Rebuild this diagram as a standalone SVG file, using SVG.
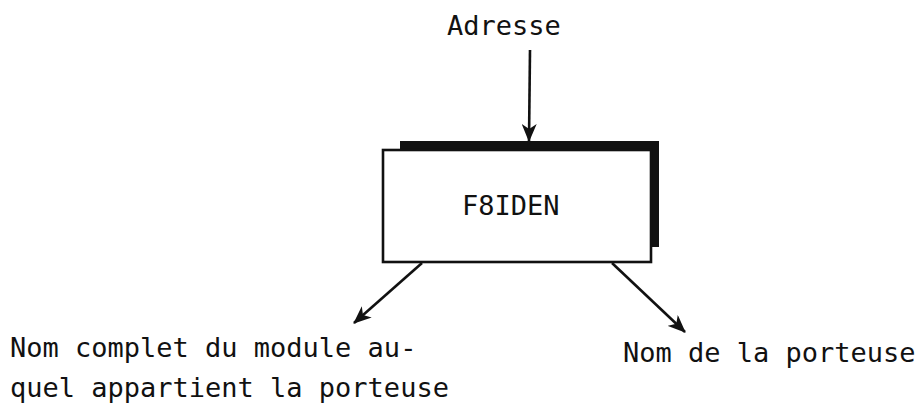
<svg xmlns="http://www.w3.org/2000/svg" width="917" height="414" viewBox="0 0 917 414">
<style>
text{font-family:"DejaVu Sans Mono","Liberation Mono",monospace;font-size:27px;fill:#111}
.ln{stroke:#111;stroke-width:2.6;fill:none}
</style>
<defs>
<marker id="ah" markerWidth="18" markerHeight="15" refX="17" refY="7.5" orient="auto" markerUnits="userSpaceOnUse">
<path d="M0,0 L18,7.5 L0,15 L5,7.5 Z" fill="#111"/>
</marker>
</defs>
<rect width="917" height="414" fill="#fff"/>
<g id="F8IDEN">
<path d="M400,141 H659 V247 H649 V149 H400 Z" fill="#111"/>
<rect x="383" y="150" width="268" height="112" fill="#fff" stroke="#111" stroke-width="2.6"/>
<text x="462" y="215">F8IDEN</text>
</g>
<g id="adresse"><text x="447" y="35">Adresse</text></g>
<g id="nom-complet">
<text x="10" y="357">Nom complet du module au-</text>
<text x="10" y="397">quel appartient la porteuse</text>
</g>
<g id="nom-porteuse"><text x="623" y="362">Nom de la porteuse</text></g>
<g id="connectors">
<line class="ln" x1="530" y1="50" x2="529" y2="141" marker-end="url(#ah)"/>
<line class="ln" x1="422" y1="263" x2="354" y2="323" marker-end="url(#ah)"/>
<line class="ln" x1="612" y1="263" x2="685" y2="332" marker-end="url(#ah)"/>
</g>
</svg>
